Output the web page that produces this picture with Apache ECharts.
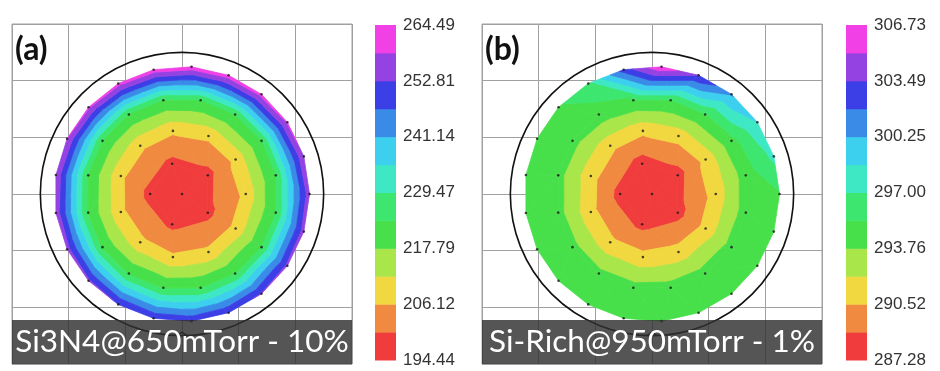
<!DOCTYPE html>
<html>
<head>
<meta charset="utf-8">
<script src="https://cdn.jsdelivr.net/npm/echarts@6/dist/echarts.min.js"></script>
<style>
html, body { margin: 0; padding: 0; background: #fff; }
#main { width: 940px; height: 371px; }
</style>
</head>
<body>
<div id="main"></div>
<script>
// wafer map layout (mm) - concentric measurement rings on a 200 mm wafer
var ringRadius = [0, 22.5, 45, 67.5, 90];
var ringSites = [1, 5, 11, 16, 21];
var ringStart = [0, 180, 0, 11.25, 0];
var waferRadius = 100;

// (a) Si3N4 @ 650 mTorr - thickness per ring, counter-clockwise from ringStart
var thickA0 = [196.6];
var thickA1 = [198.3, 198.8, 198.5, 198.2, 198.4];
var thickA2 = [207.4, 207.6, 207.3, 207.1, 207.4, 207.2, 207.3, 207.5, 207.0, 207.3, 207.5];
var thickA3 = [223.4, 223.2, 223.6, 223.3, 223.0, 222.8, 222.9, 222.7, 222.4, 222.2, 222.5, 222.6, 222.9, 223.1, 223.5, 223.3];
var thickA4 = [256.2, 258.0, 259.6, 260.8, 261.8, 262.3, 261.9, 260.9, 259.8, 258.7, 257.6, 256.6, 255.4, 254.0, 252.6, 251.6, 251.4, 252.0, 253.1, 254.3, 255.3];

// (b) Si-Rich @ 950 mTorr
var thickB0 = [287.6];
var thickB1 = [288.3, 288.4, 288.3, 288.2, 288.1];
var thickB2 = [291.1, 291.0, 291.1, 290.9, 291.0, 291.1, 291.0, 290.9, 291.0, 291.1, 291.0];
var thickB3 = [294.5, 294.8, 295.2, 295.3, 295.2, 294.7, 294.4, 294.3, 294.3, 294.3, 294.2, 294.3, 294.4, 294.4, 294.4, 294.5];
var thickB4 = [295.2, 297.4, 298.6, 300.4, 303.5, 306.4, 302.6, 296.4, 295.2, 295.0, 295.0, 295.0, 294.9, 294.9, 294.9, 295.0, 295.0, 295.0, 295.1, 295.1, 295.1];

// colour bar tick labels (bottom to top)
var labelsA = ['194.44', '206.12', '217.79', '229.47', '241.14', '252.81', '264.49'];
var labelsB = ['287.28', '290.52', '293.76', '297.00', '300.25', '303.49', '306.73'];

var bandColors = ['#f03c3c', '#f08a40', '#f2d840', '#a8e64a', '#48e04a', '#3de66e',
                  '#3ee8c4', '#3ccfee', '#3a8ae8', '#3c3ee6', '#9442e2', '#f040e6'];

// 12 contour levels: labelled levels plus the unlabelled one between each pair
function levelEdges(labels) {
    var v = labels.map(Number), e = [];
    for (var i = 0; i < v.length - 1; i++) {
        e.push(v[i], (v[i] + v[i + 1]) / 2);
    }
    e.push(v[v.length - 1]);
    return e;
}

function buildRings(rings) {
    return rings.map(function (vals, r) {
        var pts = [];
        for (var k = 0; k < ringSites[r]; k++) {
            var deg = (ringStart[r] + k * 360 / ringSites[r]) % 360;
            var a = deg * Math.PI / 180;
            pts.push({deg: deg, x: ringRadius[r] * Math.cos(a), y: ringRadius[r] * Math.sin(a), v: vals[k]});
        }
        pts.sort(function (p, q) { return p.deg - q.deg; });
        return pts;
    });
}

// stitch two neighbouring rings into triangles, walking round by angle
function ringTriangles(inner, outer) {
    var tris = [], n = inner.length, m = outer.length;
    if (n === 1) {
        for (var k = 0; k < m; k++) tris.push([inner[0], outer[k], outer[(k + 1) % m]]);
        return tris;
    }
    var a0 = inner[0].deg, j0 = 0, best = 1e9;
    outer.forEach(function (p, j) {
        var d = Math.abs(((p.deg - a0 + 540) % 360) - 180);
        if (d < best) { best = d; j0 = j; }
    });
    var relI = [], relO = [];
    for (var i = 0; i <= n; i++) relI.push(i === n ? 360 : (inner[i].deg - a0 + 360) % 360);
    relO.push(((outer[j0].deg - a0 + 540) % 360) - 180);
    for (var j = 1; j <= m; j++) {
        var prev = outer[(j0 + j - 1) % m].deg, cur = outer[(j0 + j) % m].deg;
        relO.push(relO[j - 1] + (cur - prev + 360) % 360);
    }
    var ii = 0, jj = 0;
    while (ii < n || jj < m) {
        var stepInner = jj === m || (ii < n && relI[ii + 1] < relO[jj + 1]);
        if (stepInner) {
            tris.push([inner[ii % n], outer[(j0 + jj) % m], inner[(ii + 1) % n]]);
            ii++;
        } else {
            tris.push([inner[ii % n], outer[(j0 + jj) % m], outer[(j0 + jj + 1) % m]]);
            jj++;
        }
    }
    return tris;
}

function waferData(rings) {
    var r = buildRings(rings), tris = [], sites = [];
    r.forEach(function (ring) { ring.forEach(function (p) { sites.push([p.x, p.y]); }); });
    for (var i = 0; i < r.length - 1; i++) tris = tris.concat(ringTriangles(r[i], r[i + 1]));
    return {
        sites: sites,
        tris: tris.map(function (t) {
            return [t[0].x, t[0].y, t[0].v, t[1].x, t[1].y, t[1].v, t[2].x, t[2].y, t[2].v];
        })
    };
}

function clipPoly(poly, level, keepAbove) {
    var out = [];
    for (var i = 0; i < poly.length; i++) {
        var a = poly[i], b = poly[(i + 1) % poly.length];
        var ina = keepAbove ? a[2] >= level : a[2] <= level;
        var inb = keepAbove ? b[2] >= level : b[2] <= level;
        if (ina) out.push(a);
        if (ina !== inb) {
            var t = (level - a[2]) / (b[2] - a[2]);
            out.push([a[0] + t * (b[0] - a[0]), a[1] + t * (b[1] - a[1]), level]);
        }
    }
    return out;
}

function contourRenderer(edges) {
    return function (params, api) {
        var tri = [0, 3, 6].map(function (o) { return [api.value(o), api.value(o + 1), api.value(o + 2)]; });
        var children = [];
        for (var b = 0; b < bandColors.length; b++) {
            var p = tri;
            if (b > 0) p = clipPoly(p, edges[b], true);
            if (p.length >= 3 && b < bandColors.length - 1) p = clipPoly(p, edges[b + 1], false);
            if (p.length < 3) continue;
            children.push({
                type: 'polygon',
                shape: {points: p.map(function (q) { return api.coord([q[0], q[1]]); })},
                style: {fill: bandColors[b], stroke: bandColors[b], lineWidth: 0.8}
            });
        }
        return {type: 'group', children: children};
    };
}

function renderWafer(params, api) {
    var c = api.coord([0, 0]);
    var r = api.size([waferRadius, waferRadius])[0];
    var notch = [[-3.5, -waferRadius], [0, -waferRadius + 2.5], [3.5, -waferRadius]].map(function (q) { return api.coord(q); });
    return {
        type: 'group',
        children: [
            {type: 'circle', shape: {cx: c[0], cy: c[1], r: r}, style: {fill: 'none', stroke: '#111', lineWidth: 1.6}},
            {type: 'polyline', shape: {points: notch}, style: {fill: 'none', stroke: '#111', lineWidth: 1.4}}
        ]
    };
}

function renderBar(params, api) {
    var i = api.value(1);
    var p0 = api.coord([0, i]), p1 = api.coord([1, i + 1]);
    return {
        type: 'rect',
        shape: {x: p0[0], y: p1[1], width: p1[0] - p0[0], height: p0[1] - p1[1] + 0.5},
        style: {fill: bandColors[i]}
    };
}

var waferA = waferData([thickA0, thickA1, thickA2, thickA3, thickA4]);
var waferB = waferData([thickB0, thickB1, thickB2, thickB3, thickB4]);
var edgesA = levelEdges(labelsA);
var edgesB = levelEdges(labelsB);
var bands = bandColors.map(function (c, i) { return [0.5, i]; });

var gridLine = '#a0a0a0';
function mapAxis(idx) {
    return {
        type: 'value', gridIndex: idx, min: -120, max: 120, interval: 40,
        axisLine: {show: false}, axisTick: {show: false}, axisLabel: {show: false},
        splitLine: {show: true, lineStyle: {color: gridLine, width: 1}}
    };
}
function barX(idx) {
    return {type: 'value', gridIndex: idx, min: 0, max: 1, show: false};
}
function barY(idx, labels) {
    return {
        type: 'value', gridIndex: idx, min: 0, max: 12, interval: 2, position: 'right',
        axisLine: {show: false}, axisTick: {show: false}, splitLine: {show: false},
        axisLabel: {
            margin: 7, fontSize: 17, color: '#333', fontFamily: 'Liberation Sans',
            formatter: function (v) { return labels[Math.round(v / 2)]; }
        }
    };
}

function panelSeries(w, edges, g, bg) {
    return [
        {type: 'custom', xAxisIndex: g, yAxisIndex: g, data: w.tris, encode: {x: [0, 3, 6], y: [1, 4, 7]},
         renderItem: contourRenderer(edges), silent: true, z: 2},
        {type: 'scatter', xAxisIndex: g, yAxisIndex: g, data: w.sites, symbolSize: 2.6,
         itemStyle: {color: '#1a1a1a'}, silent: true, z: 3},
        {type: 'custom', xAxisIndex: g, yAxisIndex: g, data: [[0, 0]], renderItem: renderWafer, silent: true, z: 4},
        {type: 'custom', xAxisIndex: bg, yAxisIndex: bg, data: bands, encode: {x: 0, y: 1},
         renderItem: renderBar, silent: true, z: 2}
    ];
}

function panelGraphics(left, tag, caption) {
    return [
        {type: 'text', left: left + 3, top: 34, z: 50,
         style: {text: tag, font: 'bold 32px Lato', fill: '#111'}},
        {type: 'rect', left: left, top: 320, z: 50,
         shape: {width: 340, height: 44}, style: {fill: 'rgba(48,48,48,0.82)'}},
        {type: 'text', x: left + 170, y: 342, z: 51,
         style: {text: caption, font: '31.5px Lato', fill: '#fff', align: 'center', verticalAlign: 'middle'}}
    ];
}

var chart = echarts.init(document.getElementById('main'), null, {renderer: 'canvas'});
chart.setOption({
    animation: false,
    backgroundColor: '#fff',
    grid: [
        {left: 12, top: 24, width: 340, height: 340, show: true, borderColor: gridLine, borderWidth: 1},
        {left: 375, top: 25, width: 21, height: 335},
        {left: 482, top: 24, width: 340, height: 340, show: true, borderColor: gridLine, borderWidth: 1},
        {left: 846, top: 25, width: 21, height: 335}
    ],
    xAxis: [mapAxis(0), barX(1), mapAxis(2), barX(3)],
    yAxis: [mapAxis(0), barY(1, labelsA), mapAxis(2), barY(3, labelsB)],
    series: panelSeries(waferA, edgesA, 0, 1).concat(panelSeries(waferB, edgesB, 2, 3)),
    graphic: panelGraphics(12, '(a)', 'Si3N4@650mTorr - 10%').concat(panelGraphics(482, '(b)', 'Si-Rich@950mTorr - 1%'))
});
</script>
</body>
</html>
